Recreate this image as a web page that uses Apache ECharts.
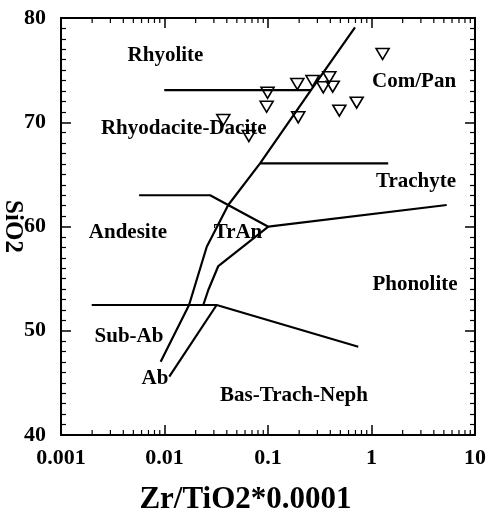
<!DOCTYPE html>
<html>
<head>
<meta charset="utf-8">
<script src="https://cdn.jsdelivr.net/npm/echarts@6/dist/echarts.min.js"></script>
<style>
html,body{margin:0;padding:0;background:#fff;}
#chart{width:491px;height:509px;}
</style>
</head>
<body>
<div id="chart"></div>
<script>
// ---- Data ----
const sampleX = [1.28, 0.099, 0.097, 0.192, 0.269, 0.391, 0.342, 0.422, 0.196, 0.489, 0.719, 0.037, 0.0653];
const sampleY = [76.55, 72.83, 71.49, 73.67, 73.96, 74.31, 73.35, 73.41, 70.47, 71.11, 71.88, 70.22, 68.68];

// Boundary lines of the classification diagram
const mainCurveX = [0.693, 0.260, 0.0838, 0.0413, 0.0256, 0.01727, 0.00918];
const mainCurveY = [79.11, 73.09, 66.06, 62.06, 58.06, 52.47, 47.03];
const tranLowerX = [0.1007, 0.0331, 0.0265, 0.0237];
const tranLowerY = [59.98, 56.21, 53.91, 52.47];
const andesiteTopX = [0.00568, 0.0276, 0.1007, 5.33];
const andesiteTopY = [63.0, 63.0, 59.98, 62.06];
const trachyteLineX = [0.0838, 1.45];
const trachyteLineY = [66.06, 66.06];
const rhyoliteLineX = [0.00995, 0.260];
const rhyoliteLineY = [73.09, 73.09];
const subAbLineX = [0.00198, 0.0319, 0.745];
const subAbLineY = [52.47, 52.47, 48.47];
const abLineX = [0.0319, 0.01112];
const abLineY = [52.47, 45.59];

// Region labels
const regionNames = ['Rhyolite', 'Com/Pan', 'Rhyodacite-Dacite', 'Trachyte', 'Andesite', 'TrAn', 'Phonolite', 'Sub-Ab', 'Ab', 'Bas-Trach-Neph'];
const regionX = [0.01022, 2.58, 0.01535, 2.69, 0.00443, 0.0513, 2.63, 0.00454, 0.00809, 0.178];
const regionY = [76.35, 73.86, 69.35, 64.27, 59.38, 59.38, 54.39, 49.40, 45.37, 43.74];

// Axis ticks
const xMajorTicks = [0.001, 0.01, 0.1, 1, 10];
const xMinorMultipliers = [2, 3, 4, 5, 6, 7, 8, 9];
const yTickLabels = [40, 50, 60, 70, 80];

// ---- Build ----
const pairs = (xs, ys) => xs.map((x, i) => [x, ys[i]]);
const minorX = [];
xMajorTicks.slice(0, -1).forEach(d => xMinorMultipliers.forEach(m => minorX.push([+(d * m).toPrecision(3)])));

const serif = 'Liberation Serif, Times New Roman, serif';
const lineSeries = (xs, ys) => ({
  type: 'line', data: pairs(xs, ys), symbol: 'none', silent: true,
  lineStyle: { color: '#000', width: 2.2 }, z: 2
});

const axisCommon = {
  axisLine: { show: true, onZero: false, lineStyle: { color: '#000', width: 2 } },
  splitLine: { show: false },
};

const option = {
  animation: false,
  backgroundColor: '#fff',
  title: {
    text: 'Zr/TiO2*0.0001', left: 'center', top: 479,
    textStyle: { fontFamily: serif, fontWeight: 'bold', fontSize: 31, color: '#000' }
  },
  grid: { left: 61, right: 16, top: 18, bottom: 74, containLabel: false, outerBoundsMode: 'none' },
  xAxis: [
    Object.assign({
      type: 'log', logBase: 10, min: 0.001, max: 10, position: 'bottom',
      axisTick: { inside: true, length: 10, lineStyle: { color: '#000', width: 1.5 } },
      axisLabel: {
        margin: 12, color: '#000', fontFamily: serif, fontWeight: 'bold', fontSize: 22,
        formatter: v => { const i = xMajorTicks.findIndex(t => Math.abs(t - v) / t < 1e-6); return i >= 0 ? String(xMajorTicks[i]) : ''; }
      }
    }, axisCommon),
    Object.assign({
      type: 'log', logBase: 10, min: 0.001, max: 10, position: 'top',
      axisTick: { inside: true, length: 10, lineStyle: { color: '#000', width: 1.5 } },
      axisLabel: { show: false }
    }, axisCommon)
  ],
  yAxis: [
    Object.assign({
      type: 'value', min: 40, max: 80, interval: 10, position: 'left',
      name: 'SiO2', nameLocation: 'middle', nameRotate: -90, nameGap: 36, nameMoveOverlap: false,
      nameTextStyle: { fontFamily: serif, fontWeight: 'bold', fontSize: 25, color: '#000' },
      axisTick: { inside: true, length: 10, lineStyle: { color: '#000', width: 1.5 } },
      minorTick: { show: true, splitNumber: 10, length: 5, lineStyle: { color: '#000', width: 1.2 } },
      axisLabel: { margin: 15, color: '#000', fontFamily: serif, fontWeight: 'bold', fontSize: 22,
        formatter: v => yTickLabels.includes(v) ? String(v) : '' }
    }, axisCommon),
    Object.assign({
      type: 'value', min: 40, max: 80, interval: 10, position: 'right',
      axisTick: { inside: true, length: 10, lineStyle: { color: '#000', width: 1.5 } },
      minorTick: { show: true, splitNumber: 10, length: 5, lineStyle: { color: '#000', width: 1.2 } },
      axisLabel: { show: false }
    }, axisCommon)
  ],
  series: [
    lineSeries(mainCurveX, mainCurveY),
    lineSeries(tranLowerX, tranLowerY),
    lineSeries(andesiteTopX, andesiteTopY),
    lineSeries(trachyteLineX, trachyteLineY),
    lineSeries(rhyoliteLineX, rhyoliteLineY),
    lineSeries(subAbLineX, subAbLineY),
    lineSeries(abLineX, abLineY),
    {
      type: 'custom', silent: true, data: minorX, z: 3,
      renderItem: (params, api) => {
        const b = api.coord([api.value(0), 40]);
        const t = api.coord([api.value(0), 80]);
        const st = { stroke: '#000', lineWidth: 1.2 };
        return { type: 'group', children: [
          { type: 'line', shape: { x1: b[0], y1: b[1], x2: b[0], y2: b[1] - 5 }, style: st },
          { type: 'line', shape: { x1: t[0], y1: t[1], x2: t[0], y2: t[1] + 5 }, style: st }
        ] };
      }
    },
    {
      type: 'scatter', silent: true, z: 4,
      data: regionNames.map((n, i) => ({ name: n, value: [regionX[i], regionY[i]] })),
      symbolSize: 0,
      itemStyle: { opacity: 1 },
      label: { show: true, position: 'inside', formatter: p => p.name, color: '#000',
        fontFamily: serif, fontWeight: 'bold', fontSize: 21 }
    },
    {
      type: 'scatter', silent: true, z: 5,
      data: pairs(sampleX, sampleY),
      symbol: 'triangle', symbolSize: [13, 11], symbolRotate: 180,
      itemStyle: { color: 'rgba(0,0,0,0)', borderColor: '#000', borderWidth: 1.6, opacity: 1 }
    }
  ]
};
echarts.init(document.getElementById('chart')).setOption(option);
</script>
</body>
</html>
